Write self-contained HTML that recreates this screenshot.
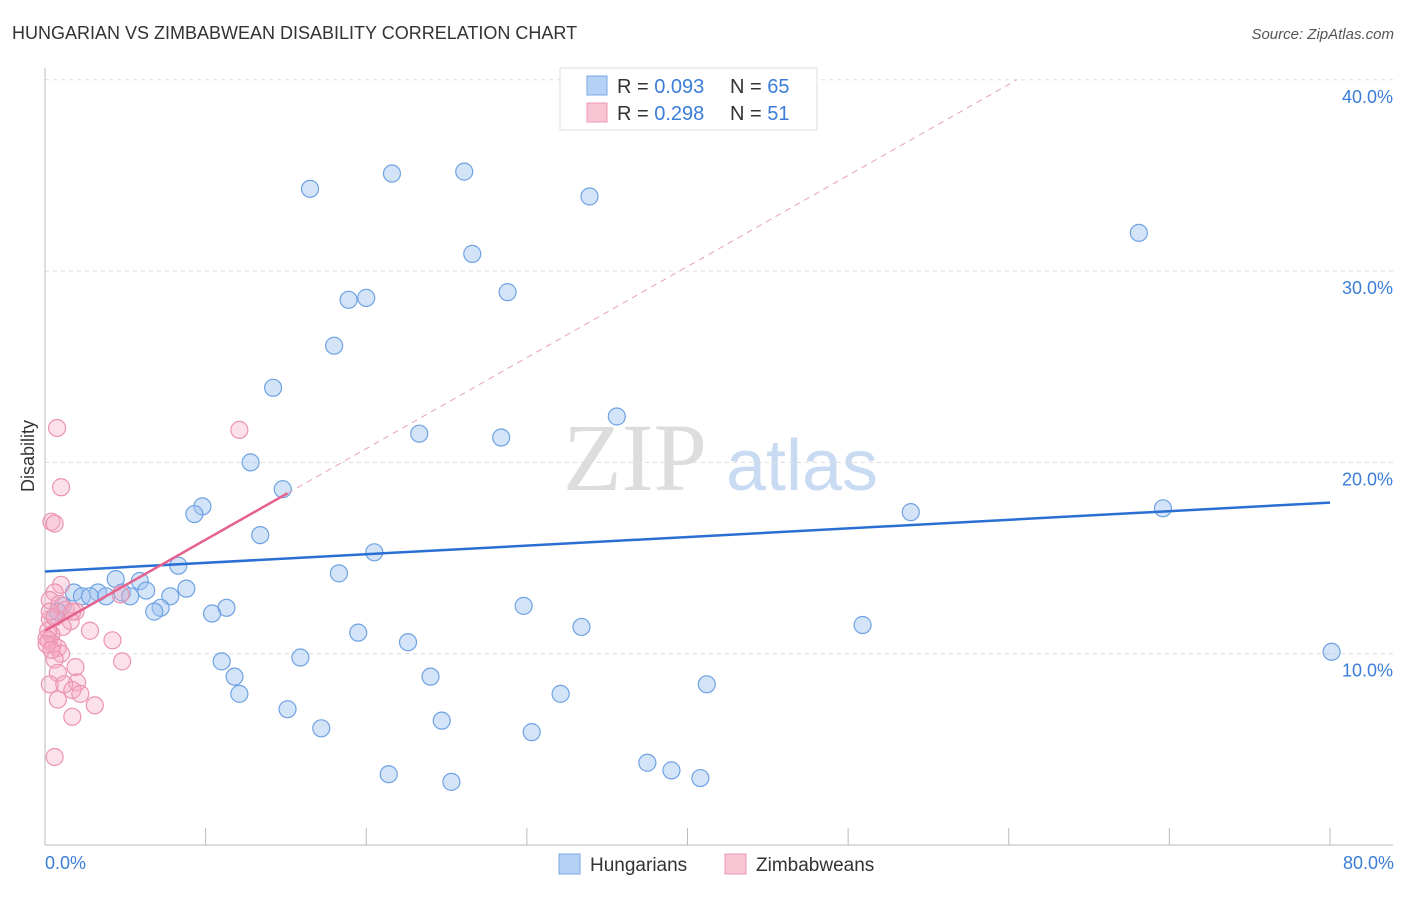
<!DOCTYPE html>
<html><head><meta charset="utf-8"><style>
body{margin:0;background:#fff;font-family:"Liberation Sans",sans-serif;}
</style></head><body>
<svg width="1406" height="892" xmlns="http://www.w3.org/2000/svg" style="font-family:'Liberation Sans',sans-serif">
<text x="12" y="39" font-size="18" fill="#333">HUNGARIAN VS ZIMBABWEAN DISABILITY CORRELATION CHART</text>
<text x="1394" y="39" font-size="15" fill="#555" text-anchor="end" font-style="italic">Source: ZipAtlas.com</text>
<text x="635" y="490" font-size="96" fill="#ddd" text-anchor="middle" font-family="Liberation Serif">ZIP</text>
<text x="802" y="490" font-size="72" fill="#c9dbf2" text-anchor="middle">atlas</text>
<g id="grid"></g><g id="axes"></g><g id="pts"></g><g id="lines"></g>
<text transform="translate(34,456) rotate(-90)" font-size="18" fill="#333" text-anchor="middle">Disability</text>
<text x="45" y="869" font-size="18" fill="#3b7dd8">0.0%</text>
<text x="1394" y="869" font-size="18" fill="#3b7dd8" text-anchor="end">80.0%</text>
<g>
<rect x="560" y="68" width="257" height="62" fill="#fff" stroke="#ddd"/>
<rect x="587" y="76" width="20" height="19" fill="#b5d1f5" stroke="#7aa8e6"/>
<rect x="587" y="103" width="20" height="19" fill="#f9c5d5" stroke="#ee98b2"/>
<text x="617" y="93" font-size="20" fill="#333">R = <tspan fill="#3b7dd8">0.093</tspan></text>
<text x="730" y="93" font-size="20" fill="#333">N = <tspan fill="#3b7dd8">65</tspan></text>
<text x="617" y="120" font-size="20" fill="#333">R =  <tspan fill="#3b7dd8">0.298</tspan></text>
<text x="730" y="120" font-size="20" fill="#333">N =  <tspan fill="#3b7dd8">51</tspan></text>
</g>
<g>
<rect x="559" y="854" width="21" height="20" fill="#b5d1f5" stroke="#7aa8e6"/>
<text x="590" y="871" font-size="19" fill="#333">Hungarians</text>
<rect x="725" y="854" width="21" height="20" fill="#f9c5d5" stroke="#ee98b2"/>
<text x="756" y="871" font-size="19" fill="#333">Zimbabweans</text>
</g>
</svg>
<script>
const yTicks=[10,20,30,40];
const yTickLabels=["10.0%","20.0%","30.0%","40.0%"];
const xTicks=[0,10,20,30,40,50,60,70,80];
const hungX=[16.5,21.6,26.1,33.9,26.6,28.8,18.9,20.0,18.0,14.2,35.6,23.3,28.4,12.8,14.8,9.8,9.3,13.4,20.5,8.3,18.3,4.4,5.9,8.8,1.8,3.3,4.8,6.3,2.3,2.8,3.8,5.3,7.8,7.2,6.8,11.3,10.4,1.1,0.6,29.8,33.4,50.9,19.5,22.6,80.1,11.0,15.9,11.8,24.0,41.2,12.1,32.1,15.1,24.7,17.2,30.3,21.4,25.3,37.5,39.0,40.8,53.9,69.6,68.1,0.8];
const hungY=[34.3,35.1,35.2,33.9,30.9,28.9,28.5,28.6,26.1,23.9,22.4,21.5,21.3,20.0,18.6,17.7,17.3,16.2,15.3,14.6,14.2,13.9,13.8,13.4,13.2,13.2,13.2,13.3,13.0,13.0,13.0,13.0,13.0,12.4,12.2,12.4,12.1,12.5,11.9,12.5,11.4,11.5,11.1,10.6,10.1,9.6,9.8,8.8,8.8,8.4,7.9,7.9,7.1,6.5,6.1,5.9,3.7,3.3,4.3,3.9,3.5,17.4,17.6,32.0,12.2];
const zimX=[0.75,12.1,1.0,0.4,0.6,1.0,0.6,0.3,0.9,1.3,1.9,4.7,1.6,1.1,0.4,0.25,0.5,0.8,4.2,4.8,1.0,0.6,1.9,0.8,0.3,2.0,1.2,1.7,2.2,0.8,3.1,1.7,0.6,0.3,0.2,0.1,0.1,0.4,2.8,0.6,1.7,0.3];
const zimY=[21.8,21.7,18.7,16.9,16.8,13.6,13.2,12.8,12.6,12.3,12.2,13.1,11.7,11.4,11.0,10.7,10.5,10.3,10.7,9.6,10.0,9.7,9.3,9.0,8.4,8.5,8.4,8.1,7.9,7.6,7.3,6.7,4.6,11.8,11.2,10.8,10.5,10.2,11.2,11.9,12.2,12.2];
const hungTrend=[14.3,17.9]; // y at x=0 and x=80
const zimTrend=[11.2,0.476]; // intercept, slope
const X=v=>45+v/80*1285, Y=v=>845-v*19.13;
const NS="http://www.w3.org/2000/svg";
function mk(t,a,p){const e=document.createElementNS(NS,t);for(const k in a)e.setAttribute(k,a[k]);p.appendChild(e);return e;}
const grid=document.getElementById('grid'),axes=document.getElementById('axes'),pts=document.getElementById('pts'),lines=document.getElementById('lines');
yTicks.forEach((t,i)=>{
 const l=mk('line',{x1:45,x2:1393,y1:Y(t),y2:Y(t),stroke:'#ddd','stroke-dasharray':'4,4'},grid);
 
 
 const tx=mk('text',{x:1393,y:Y(t)+23,'font-size':18,fill:'#3b7dd8','text-anchor':'end'},grid);
 tx.textContent=yTickLabels[i];
 
 
});
const ax=mk('line',{x1:45,x2:45,y1:68,y2:845,stroke:'#bbb'},axes);


const bx=mk('line',{x1:45,x2:1393,y1:845,y2:845,stroke:'#bbb'},axes);


xTicks.forEach(t=>{
 const l=mk('line',{x1:X(t),x2:X(t),y1:828,y2:845,stroke:'#bbb'},axes);
 
 
});
hungX.forEach((v,i)=>{
 const c=mk('circle',{cx:X(v),cy:Y(hungY[i]),r:8.5,fill:'rgba(160,196,240,0.45)',stroke:'#6fa2e2','stroke-width':1.2},pts);
 
 
});
zimX.forEach((v,i)=>{
 const c=mk('circle',{cx:X(v),cy:Y(zimY[i]),r:8.5,fill:'rgba(245,170,195,0.35)',stroke:'#eb94b0','stroke-width':1.2},pts);
 
 
});
const hl=mk('line',{x1:X(0),y1:Y(hungTrend[0]),x2:X(80),y2:Y(hungTrend[1]),stroke:'#2a6fd4','stroke-width':2.5},lines);


const zx2=(40-zimTrend[0])/zimTrend[1];
const zd=mk('line',{x1:X(15.1),y1:Y(zimTrend[0]+zimTrend[1]*15.1),x2:X(zx2),y2:Y(40),stroke:'#e8a0b8','stroke-width':1,'stroke-dasharray':'6,5'},lines);


const zl=mk('line',{x1:X(0),y1:Y(zimTrend[0]),x2:X(15.1),y2:Y(zimTrend[0]+zimTrend[1]*15.1),stroke:'#e5628e','stroke-width':2.5},lines);


</script>
</body></html>
